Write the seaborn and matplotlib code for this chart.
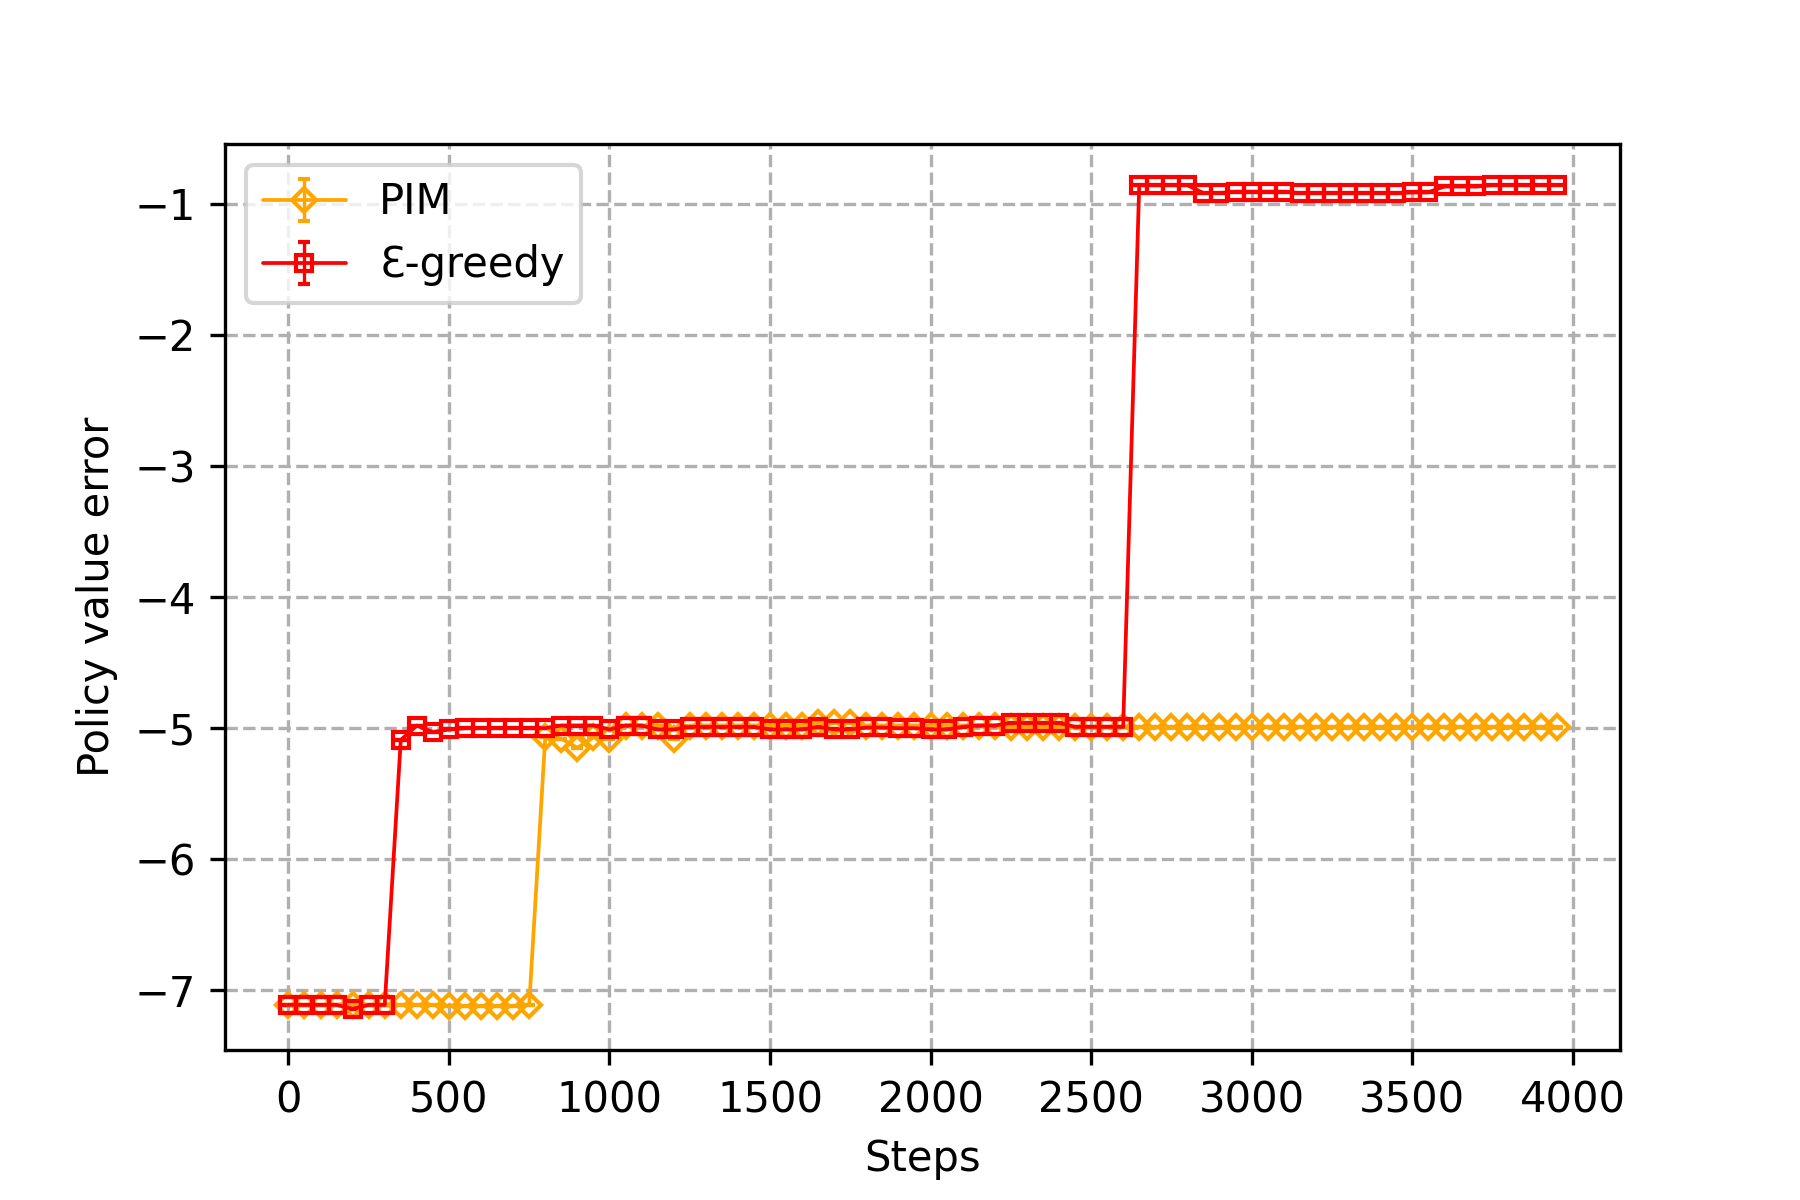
import numpy as np
import pandas as pd
import seaborn as sns
import matplotlib
matplotlib.use("Agg")
import matplotlib.pyplot as plt

# steps on the x axis (one point every 50 steps)
steps = list(range(0, 4000, 50))

pim = [-7.11, -7.11, -7.11, -7.11, -7.11, -7.11, -7.11, -7.11,
       -7.11, -7.11, -7.12, -7.12, -7.12, -7.12, -7.12, -7.11,
       -5.07, -5.08, -5.15, -5.07, -5.08,
       -4.98, -4.98, -4.98, -5.08, -4.98,
       -4.98, -4.98, -4.98, -4.98, -4.98, -4.98, -4.98,
       -4.96, -4.96, -4.96,
       -4.98, -4.98, -4.98, -4.98, -4.98, -4.98, -4.98, -4.98, -4.98,
       -4.99, -4.99, -4.99, -4.99, -4.99, -4.99, -4.99, -4.99, -4.99,
       -4.99, -4.99, -4.99, -4.99, -4.99, -4.99, -4.99, -4.99, -4.99,
       -4.99, -4.99, -4.99, -4.99, -4.99, -4.99, -4.99, -4.99, -4.99,
       -4.99, -4.99, -4.99, -4.99, -4.99, -4.99, -4.99, -4.99]

eps_greedy = [-7.11, -7.11, -7.11, -7.11, -7.14, -7.11, -7.11,
              -5.09, -4.98, -5.03, -5.01,
              -5.0, -5.0, -5.0, -5.0, -5.0,
              -5.0, -4.98, -4.98, -4.98, -5.01,
              -4.98, -4.98, -5.01, -5.01,
              -4.99, -4.99, -4.99, -4.99, -4.99,
              -5.01, -5.01, -5.01, -4.99, -5.01, -5.01,
              -4.995, -4.995, -5.0, -5.0, -5.01, -5.01,
              -4.99, -4.98, -4.98,
              -4.96, -4.96, -4.96, -4.96,
              -4.99, -4.99, -4.99, -4.99,
              -0.86, -0.86, -0.86, -0.86,
              -0.92, -0.92,
              -0.91, -0.91, -0.91, -0.91,
              -0.92, -0.92, -0.92, -0.92, -0.92, -0.92, -0.92,
              -0.915, -0.915,
              -0.87, -0.87, -0.87,
              -0.86, -0.86, -0.86, -0.86, -0.86]

pim_err = [0.0] * len(steps)
eps_err = [0.0] * len(steps)

series_names = ["PIM", "\u0190-greedy"]
series_colors = ["orange", "red"]
series_markers = ["D", "s"]

df = pd.DataFrame({
    "Steps": steps * 2,
    "value": pim + eps_greedy,
    "err": pim_err + eps_err,
    "method": [series_names[0]] * len(steps) + [series_names[1]] * len(steps),
})

sns.set_style("ticks", rc={
    "axes.edgecolor": "black",
    "axes.labelcolor": "black",
    "text.color": "black",
    "xtick.color": "black",
    "ytick.color": "black",
    "axes.grid": True,
    "grid.color": "#b0b0b0",
    "grid.linestyle": "--",
    "grid.linewidth": 0.8,
})
plt.rcParams["font.family"] = ["DejaVu Sans"]

fig, ax = plt.subplots(figsize=(6, 4), dpi=300)
fig.subplots_adjust(left=0.125, right=0.9, top=0.88, bottom=0.125)

for name, color, marker in zip(series_names, series_colors, series_markers):
    sub = df[df["method"] == name]
    ax.errorbar(sub["Steps"], sub["value"], yerr=sub["err"], label=name,
                color=color, marker=marker, markersize=4, markerfacecolor="none",
                markeredgewidth=1.0, linewidth=0.9, capsize=1.5, elinewidth=0.8)

ax.set_xlabel("Steps")
ax.set_ylabel("Policy value error")
ax.grid(True, linestyle="--", color="#b0b0b0")
ax.legend(loc="upper left", fontsize=10)
for s in ax.spines.values():
    s.set_visible(True)
    s.set_color("black")

fig.savefig("out.png", dpi=300)
